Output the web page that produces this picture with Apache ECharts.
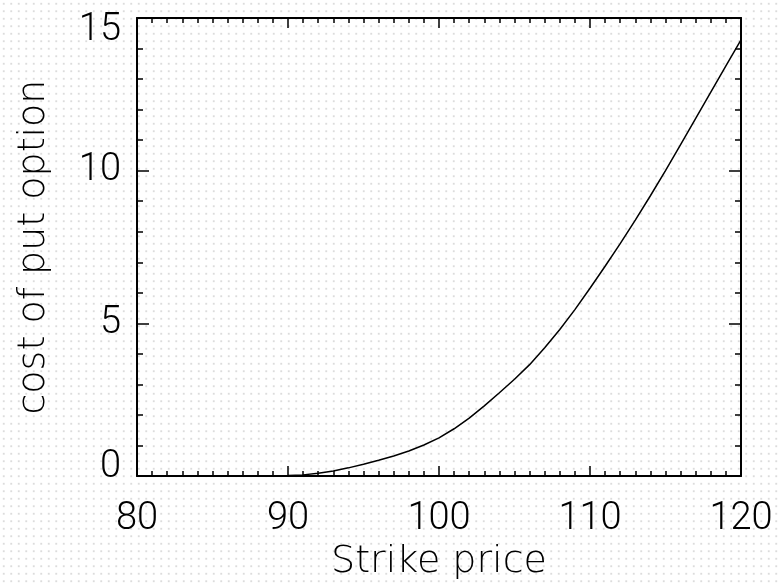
<!DOCTYPE html>
<html>
<head>
<meta charset="utf-8">
<script src="https://cdn.jsdelivr.net/npm/echarts@6/dist/echarts.min.js"></script>
<style>
html,body{margin:0;padding:0;background:#fff;}
#c{width:780px;height:586px;
 background-color:#fff;
 background-image:radial-gradient(circle, #dcdcdc 0.9px, rgba(255,255,255,0) 1.2px);
 background-size:7.5px 7.5px;}
</style>
</head>
<body>
<div id="c"></div>
<script>
var strikes = [88,89,90,91,92,93,94,95,96,97,98,99,100,101,102,103,104,105,106,107,108,109,110,111,112,113,114,115,116,117,118,119,120];
var putCost = [0.005,0.01,0.02,0.04,0.09,0.17,0.27,0.39,0.52,0.66,0.82,1.02,1.25,1.55,1.9,2.3,2.73,3.17,3.65,4.2,4.8,5.45,6.15,6.87,7.61,8.38,9.18,10.0,10.85,11.71,12.57,13.43,14.28];
var xTicks = [80,90,100,110,120];
var yTicks = [0,5,10,15];
var xName = 'Strike price';
var yName = 'cost of put option';

var chart = echarts.init(document.getElementById('c'), null, {renderer:'canvas'});
var font = 'Roboto';
var nameFont = 'DejaVu Sans';
var lineStyle = {color:'#000', width:2};
var labelBase = {color:'#000', fontSize:38, fontFamily:font, fontWeight:300};
function xAxisDef(pos, showLabel){
  return {
    type:'value', position:pos, min:xTicks[0], max:xTicks[xTicks.length-1], interval:xTicks[1]-xTicks[0],
    name: showLabel ? xName : '', nameLocation:'middle', nameGap:58,
    nameTextStyle:{color:'#000', fontSize:38, fontFamily:nameFont, fontWeight:200},
    axisLine:{show:true, onZero:false, lineStyle:lineStyle},
    axisTick:{show:true, inside:true, length:10, lineStyle:{color:'#000', width:1.5}},
    minorTick:{show:true, splitNumber:10, length:5, lineStyle:{color:'#000', width:1.5}},
    axisLabel:Object.assign({show:showLabel, margin:24}, labelBase),
    splitLine:{show:false}, minorSplitLine:{show:false}
  };
}
function yAxisDef(pos, showLabel){
  return {
    type:'value', position:pos, min:yTicks[0], max:yTicks[yTicks.length-1], interval:yTicks[1]-yTicks[0],
    name: showLabel ? yName : '', nameLocation:'middle', nameGap:84,
    nameTextStyle:{color:'#000', fontSize:38, fontFamily:nameFont, fontWeight:200},
    axisLine:{show:true, onZero:false, lineStyle:lineStyle},
    axisTick:{show:true, inside:true, length:12, lineStyle:{color:'#000', width:1.5}},
    minorTick:{show:true, splitNumber:5, length:6, lineStyle:{color:'#000', width:1.5}},
    axisLabel:Object.assign({show:showLabel, margin:16,
      verticalAlignMinLabel:'bottom', verticalAlignMaxLabel:'top',
      formatter:function(v){
        if (v === yTicks[0]) return '{lo|' + v + '}';
        if (v === yTicks[yTicks.length-1]) return '{hi|' + v + '}';
        return String(v);
      },
      rich:{
        lo:Object.assign({lineHeight:18}, labelBase),
        hi:Object.assign({lineHeight:24}, labelBase)
      }}, labelBase),
    splitLine:{show:false}, minorSplitLine:{show:false}
  };
}
chart.setOption({
  animation:false,
  backgroundColor:'transparent',
  grid:{left:137, right:39, top:18, bottom:108},
  xAxis:[xAxisDef('bottom', true), xAxisDef('top', false)],
  yAxis:[yAxisDef('left', true), yAxisDef('right', false)],
  series:[{
    type:'line', xAxisIndex:0, yAxisIndex:0,
    data: strikes.map(function(k,i){return [k, putCost[i]];}),
    showSymbol:false, smooth:false,
    lineStyle:{color:'#000', width:1.5}
  }]
});
</script>
</body>
</html>
